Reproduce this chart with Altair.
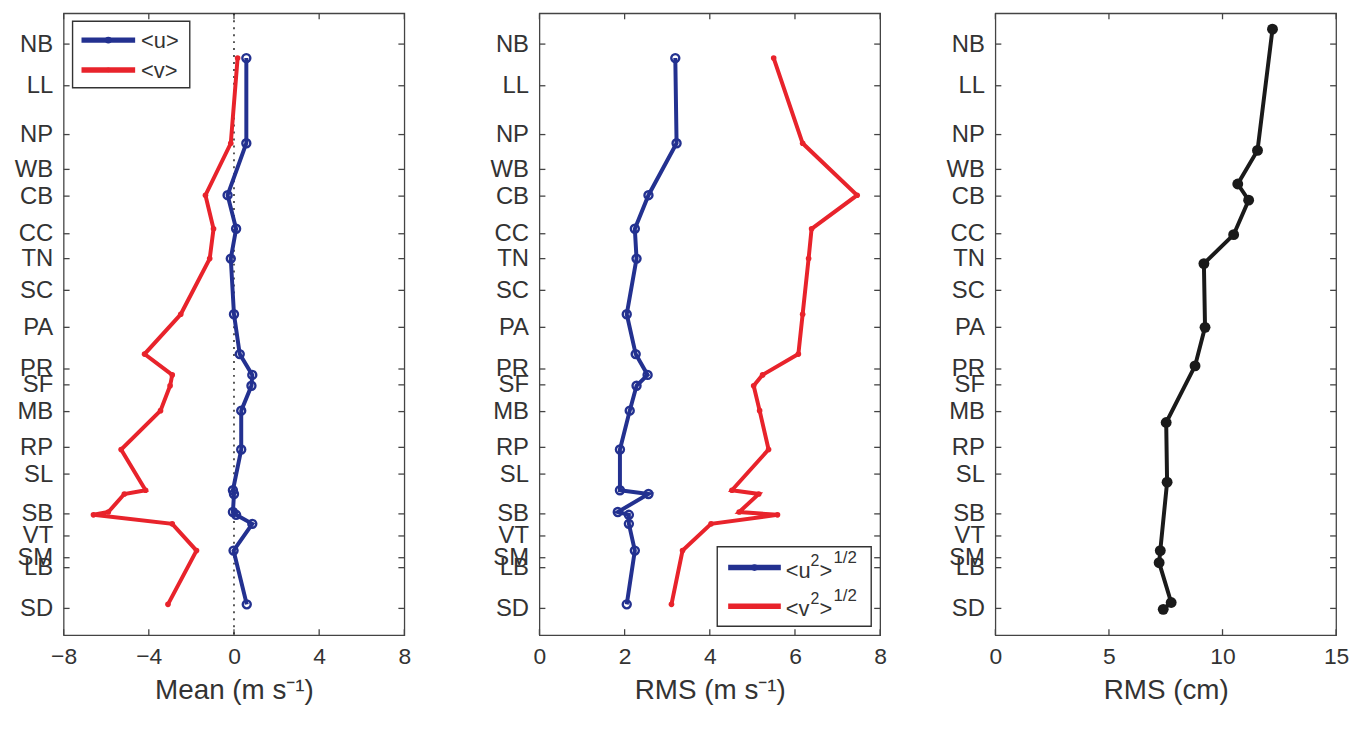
import altair as alt
import pandas as pd

FONT = "Liberation Sans, Arial, sans-serif"
BLUE = "#233190"
RED = "#e8232b"
BLACK = "#1a1a1a"
TXT = "#333333"
BOX = "#444444"

W, H = 343, 626
Y_DOMAIN = [0, 2000]
TK = 6

# station labels and their along-coast positions (km-like units, bottom = 0)
stations = ["NB", "LL", "NP", "WB", "CB", "CC", "TN", "SC", "PA", "PR",
            "SF", "MB", "RP", "SL", "SB", "VT", "SM", "LB", "SD"]
station_pos = [1901, 1767, 1610, 1498, 1412, 1291, 1211, 1109, 990, 856,
               805, 719, 604, 518, 390, 319, 249, 217, 86]

# observation positions for the velocity panels
obs_pos = [1856, 1582, 1415, 1307, 1211, 1032, 904, 837, 802, 722,
           597, 466, 454, 396, 387, 358, 272, 99]
mean_u = [0.58, 0.58, -0.30, 0.10, -0.15, 0.00, 0.27, 0.86, 0.82, 0.34,
          0.34, -0.05, 0.00, -0.05, 0.10, 0.86, -0.02, 0.60]
mean_v = [0.17, -0.15, -1.34, -0.96, -1.14, -2.50, -4.20, -2.90, -3.00, -3.45,
          -5.30, -4.15, -5.15, -5.90, -6.60, -2.90, -1.76, -3.10]
rms_u = [3.19, 3.22, 2.56, 2.24, 2.28, 2.05, 2.26, 2.54, 2.28, 2.12,
         1.89, 1.89, 2.56, 1.84, 2.10, 2.10, 2.24, 2.05]
rms_v = [5.50, 6.18, 7.46, 6.39, 6.32, 6.18, 6.08, 5.24, 5.03, 5.17,
         5.38, 4.52, 5.15, 4.69, 5.59, 4.03, 3.36, 3.10]

# sea level RMS panel
ssh_pos = [1949, 1559, 1451, 1399, 1288, 1195, 990, 866, 684, 492,
           272, 233, 105, 83]
ssh_rms = [12.2, 11.54, 10.67, 11.15, 10.49, 9.18, 9.23, 8.79, 7.52, 7.56,
           7.26, 7.21, 7.74, 7.39]

mean_ticks = [-8, -4, 0, 4, 8]
rms_ticks = [0, 2, 4, 6, 8]
ssh_ticks = [0, 5, 10, 15]

label_expr = " : ".join(
    f"datum.value == {p} ? '{s}'" for p, s in zip(station_pos, stations)
) + " : ''"

one = pd.DataFrame({"k": [0]})


def yenc(field="pos"):
    return alt.Y(
        f"{field}:Q",
        scale=alt.Scale(domain=Y_DOMAIN, nice=False, zero=False),
        axis=alt.Axis(values=station_pos, labelExpr=label_expr, ticks=False,
                      domain=False, grid=False, labelOverlap=False,
                      labelFlush=False, labelPadding=11, title=None,
                      labelFontSize=24),
    )


def xenc(domain, ticks, title):
    return alt.X(
        "value:Q",
        scale=alt.Scale(domain=domain, nice=False, zero=False),
        axis=alt.Axis(values=ticks, ticks=False, domain=False, grid=False,
                      labelFlush=False, labelOverlap=False, labelPadding=11,
                      titlePadding=8, title=title, labelFontSize=23,
                      titleFontSize=28),
    )


def frame_layers(domain, ticks, title):
    st_df = pd.DataFrame({"pos": station_pos})
    xt_df = pd.DataFrame({"value": ticks})
    rule = dict(color=BOX, strokeWidth=1.3)
    return [
        alt.Chart(st_df).mark_rule(**rule).encode(
            y=yenc(), x=alt.value(0), x2=alt.value(TK)),
        alt.Chart(st_df).mark_rule(**rule).encode(
            y=yenc(), x=alt.value(W - TK), x2=alt.value(W)),
        alt.Chart(xt_df).mark_rule(**rule).encode(
            x=xenc(domain, ticks, title), y=alt.value(H - TK), y2=alt.value(H)),
        alt.Chart(xt_df).mark_rule(**rule).encode(
            x=xenc(domain, ticks, title), y=alt.value(0), y2=alt.value(TK)),
    ]


def series_layers(pos, vals, color, domain, ticks, title, marker):
    df = pd.DataFrame({"pos": pos, "value": vals, "idx": range(len(pos))})
    base = alt.Chart(df).encode(
        x=xenc(domain, ticks, title), y=yenc(), order=alt.Order("idx:Q"))
    line = base.mark_line(color=color, strokeWidth=4)
    if marker == "open":
        pts = base.mark_point(shape="circle", filled=False, color=color,
                              size=65, strokeWidth=2.4, opacity=1)
    elif marker == "dot":
        pts = base.mark_point(shape="circle", filled=True, color=color,
                              size=32, opacity=1)
    else:
        pts = base.mark_point(shape="circle", filled=True, color=color,
                              size=120, opacity=1)
    return [line, pts]


def txt(x, y, s, size=22, align="left"):
    return alt.Chart(one).mark_text(
        align=align, baseline="middle", font=FONT, fontSize=size, color=TXT
    ).encode(x=alt.value(x), y=alt.value(y), text=alt.value(s))


def legend_line(x1, x2, y, color, marker):
    out = [alt.Chart(one).mark_rule(color=color, strokeWidth=5.5).encode(
        x=alt.value(x1), x2=alt.value(x2), y=alt.value(y))]
    size = 45 if marker == "open" else 22
    out.append(alt.Chart(one).mark_point(
        shape="circle", filled=True, color=color, size=size, opacity=1
    ).encode(x=alt.value((x1 + x2) / 2), y=alt.value(y)))
    return out


def legend_box(x1, x2, y1, y2):
    return alt.Chart(one).mark_rect(
        fill="white", stroke="#333333", strokeWidth=1.4
    ).encode(x=alt.value(x1), x2=alt.value(x2), y=alt.value(y1), y2=alt.value(y2))


# ---- panel 1: mean velocity
t1 = "Mean (m s\u207b\u00b9)"
d1 = [-8, 8]
zero = alt.Chart(pd.DataFrame({"value": [0]})).mark_rule(
    color="#222222", strokeWidth=1.5, strokeDash=[2, 5]
).encode(x=xenc(d1, mean_ticks, t1))
p1_layers = frame_layers(d1, mean_ticks, t1) + [zero]
p1_layers += series_layers(obs_pos, mean_v, RED, d1, mean_ticks, t1, "dot")
p1_layers += series_layers(obs_pos, mean_u, BLUE, d1, mean_ticks, t1, "open")
p1_layers += [legend_box(9, 127, 8, 75)]
p1_layers += legend_line(18, 72, 27, BLUE, "open") + [txt(78, 28, "<u>")]
p1_layers += legend_line(18, 72, 57, RED, "dot") + [txt(78, 58, "<v>")]
p1 = alt.layer(*p1_layers).properties(width=W, height=H)

# ---- panel 2: RMS velocity
t2 = "RMS (m s\u207b\u00b9)"
d2 = [0, 8]
p2_layers = frame_layers(d2, rms_ticks, t2)
p2_layers += series_layers(obs_pos, rms_u, BLUE, d2, rms_ticks, t2, "open")
p2_layers += series_layers(obs_pos, rms_v, RED, d2, rms_ticks, t2, "dot")
p2_layers += [legend_box(179, 334, 537, 617)]
for yy, col, mk, ch in [(558, BLUE, "open", "u"), (597, RED, "dot", "v")]:
    p2_layers += legend_line(190, 243, yy, col, mk)
    p2_layers += [
        txt(248, yy + 3, "<" + ch),
        txt(273, yy - 7, "2", size=16),
        txt(282, yy + 3, ">"),
        txt(296, yy - 10, "1/2", size=17),
    ]
p2 = alt.layer(*p2_layers).properties(width=W, height=H)

# ---- panel 3: RMS sea level
t3 = "RMS (cm)"
d3 = [0, 15]
p3_layers = frame_layers(d3, ssh_ticks, t3)
p3_layers += series_layers(ssh_pos, ssh_rms, BLACK, d3, ssh_ticks, t3, "big")
p3 = alt.layer(*p3_layers).properties(width=W, height=H)

inner = alt.hconcat(p1, p2, spacing=77)
chart = alt.hconcat(inner, p3, spacing=57).properties(
    padding={"left": 5, "top": 1, "right": 0, "bottom": 0}
).configure_view(
    stroke=BOX, strokeWidth=1.3
).configure_axis(
    labelFont=FONT, titleFont=FONT, labelColor=TXT, titleColor=TXT,
    titleFontWeight="normal"
)

chart.save("out.html", embed_options={"renderer": "svg", "actions": False})
